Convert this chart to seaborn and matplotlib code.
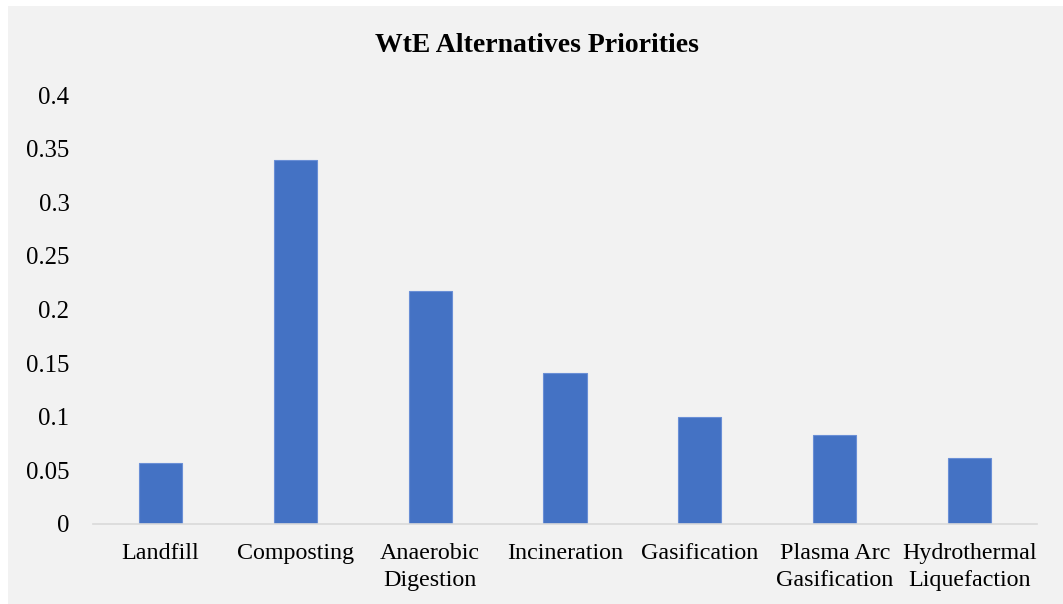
import matplotlib
matplotlib.use("Agg")
import matplotlib.pyplot as plt
import seaborn as sns
import pandas as pd
from matplotlib.patches import Rectangle

categories = ["Landfill", "Composting", "Anaerobic\nDigestion", "Incineration",
              "Gasification", "Plasma Arc\nGasification", "Hydrothermal\nLiquefaction"]
priorities = [0.057, 0.339, 0.217, 0.141, 0.0995, 0.083, 0.0613]
yticks = [0, 0.05, 0.1, 0.15, 0.2, 0.25, 0.3, 0.35, 0.4]
ytick_labels = ["0", "0.05", "0.1", "0.15", "0.2", "0.25", "0.3", "0.35", "0.4"]
title = "WtE Alternatives Priorities"

sns.set_style("white")
plt.rcParams['font.family'] = ['Liberation Serif', 'DejaVu Serif']

df = pd.DataFrame({"Alternative": categories, "Priority": priorities})

fig = plt.figure(figsize=(10.63, 6.04), dpi=100)
fig.patch.set_facecolor("white")
bg = Rectangle((8 / 1063, 0), 1 - 8 / 1063, 1 - 6 / 604, transform=fig.transFigure,
               facecolor="#f2f2f2", edgecolor="none", zorder=-10)
fig.patches.append(bg)

ax = fig.add_axes([93 / 1063, 1 - 524 / 604, (1037 - 93) / 1063, (524 - 95) / 604])
ax.set_facecolor("none")
ax.patch.set_visible(False)
sns.barplot(data=df, x="Alternative", y="Priority", ax=ax, color="#4472C4",
            width=0.32, saturation=1, edgecolor="#6a8fd6", linewidth=0.8)

ax.set_xlim(-0.5, len(categories) - 0.5)
ax.set_ylim(0, 0.4)
ax.set_yticks(yticks)
ax.set_yticklabels(ytick_labels)
ax.set_xlabel("")
ax.set_ylabel("")
for s in ["top", "right", "left"]:
    ax.spines[s].set_visible(False)
ax.spines["bottom"].set_color("#d9d9d9")
ax.spines["bottom"].set_linewidth(1.2)
ax.tick_params(axis="x", length=0, pad=14, labelsize=17.3, colors="#000000")
ax.tick_params(axis="y", length=0, pad=17, labelsize=17.8, colors="#000000")
for lab in ax.get_xticklabels():
    lab.set_linespacing(1.35)

fig.text(537 / 1063, 1 - 46 / 604, title, ha="center", va="center",
         fontsize=20, fontweight="bold", color="#000000")

fig.savefig("out.png", dpi=100, facecolor=fig.get_facecolor())
